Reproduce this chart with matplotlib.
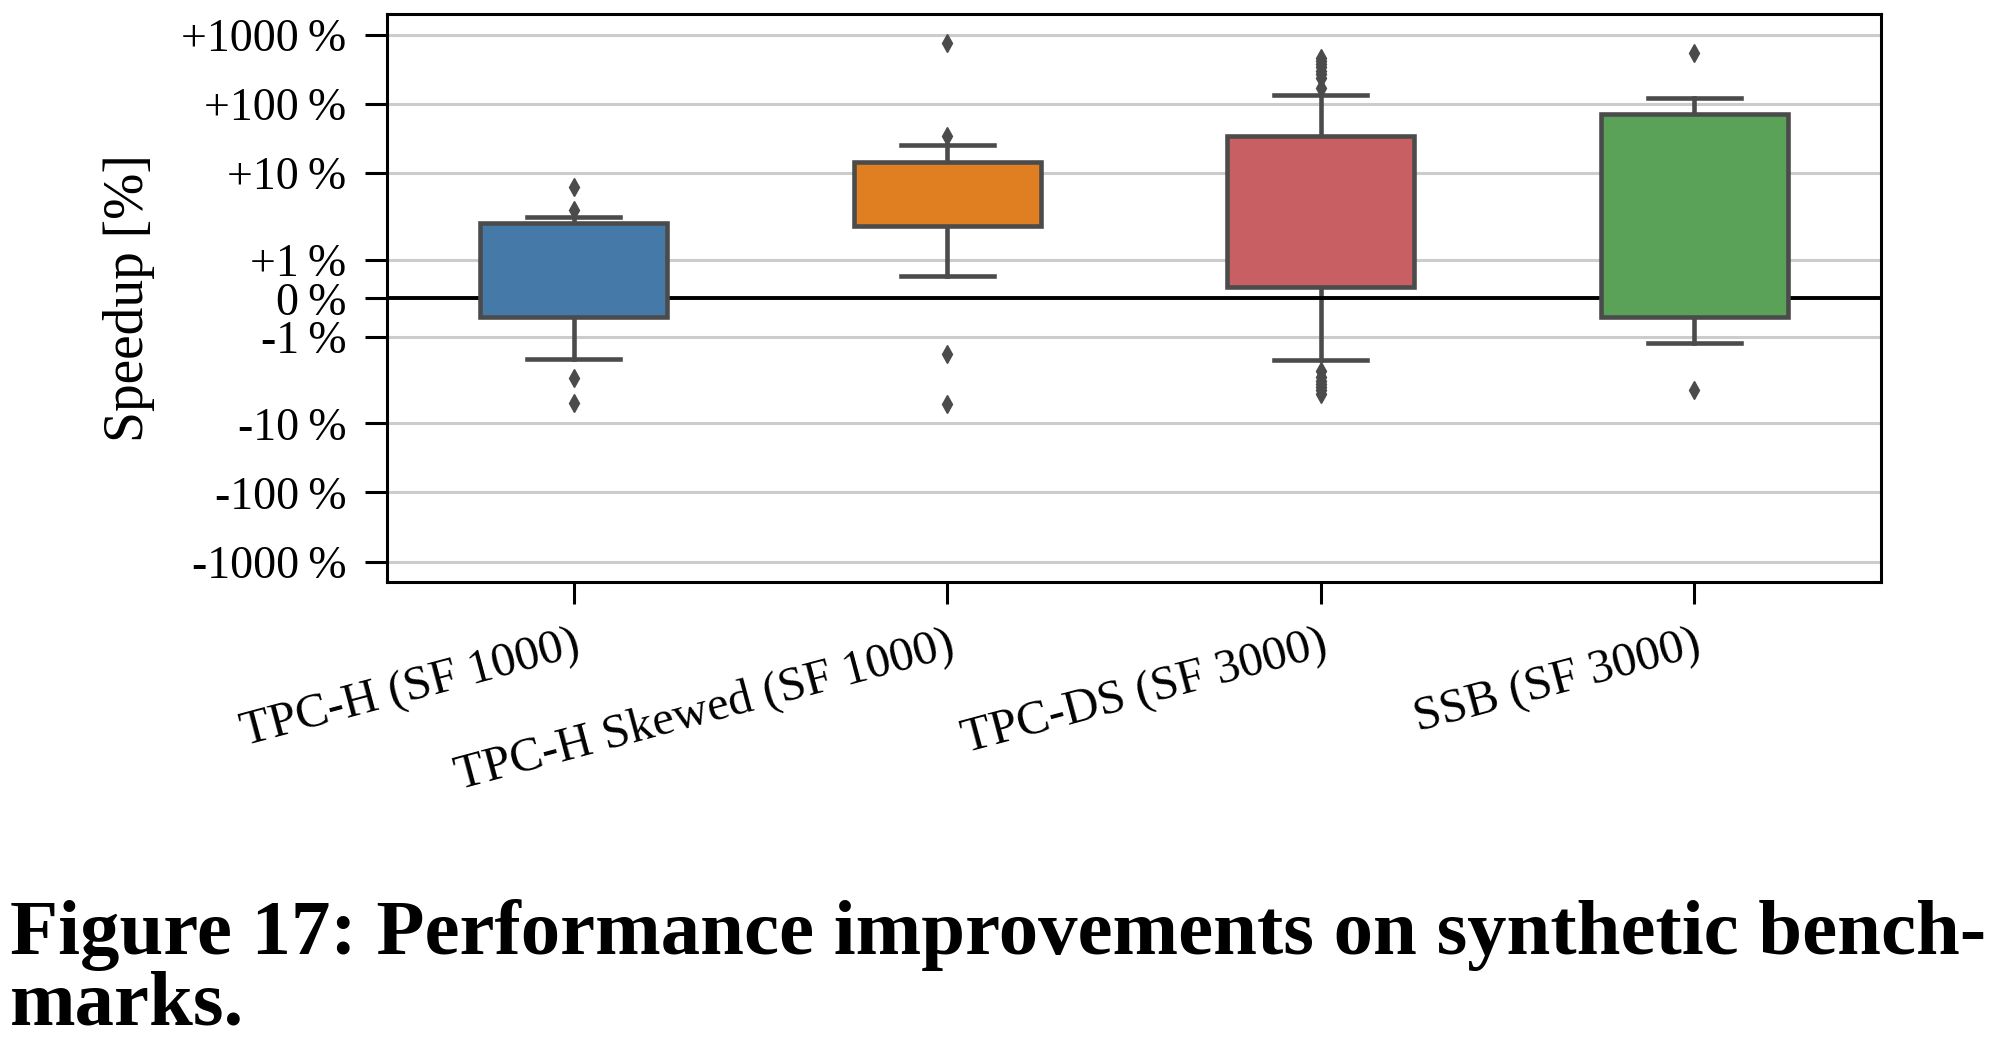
import numpy as np
import matplotlib
matplotlib.use("Agg")
import matplotlib.pyplot as plt

plt.rcParams["font.family"] = ["Liberation Serif", "DejaVu Serif"]

# ── Data (speedup in %) ──────────────────────────────────────────────────────
BENCHMARKS = ["TPC-H (SF 1000)", "TPC-H Skewed (SF 1000)",
              "TPC-DS (SF 3000)", "SSB (SF 3000)"]
COLORS = ["#4479a8", "#e07f22", "#c85f63", "#5aa258"]

q1_vals = [-0.48, 1.89, 0.30, -0.48]
median_vals = [0.45, 7.15, 2.40, 3.96]
q3_vals = [1.95, 14.4, 34.6, 71.0]
whislo_vals = [-1.58, 0.58, -1.61, -1.17]
whishi_vals = [2.30, 26.0, 135.0, 121.0]
flier_vals = [
    [6.4, 2.9, -2.2, -5.0],
    [774.0, 34.0, -1.46, -5.3],
    [169.0, 240.0, 270.0, 300.0, 340.0, 380.0, 420.0, 460.0,
     -1.9, -2.1, -2.4, -2.7, -3.0, -3.3, -3.7],
    [555.0, -3.3],
]

YTICKS = [1000, 100, 10, 1, 0, -1, -10, -100, -1000]
YTICK_LABELS = ["+1000\u2009%", "+100\u2009%", "+10\u2009%", "+1\u2009%", "0\u2009%",
                "-1\u2009%", "-10\u2009%", "-100\u2009%", "-1000\u2009%"]

EDGE = "#4b4b4b"

fig = plt.figure(figsize=(20, 10.54), dpi=100)
ax = fig.add_axes([0.1935, 0.4475, 0.747, 0.539])

stats = []
for i, name in enumerate(BENCHMARKS):
    stats.append(dict(label=name, med=median_vals[i], q1=q1_vals[i], q3=q3_vals[i],
                      whislo=whislo_vals[i], whishi=whishi_vals[i],
                      fliers=flier_vals[i]))

bp = ax.bxp(stats, positions=np.arange(len(BENCHMARKS)), widths=0.5,
            capwidths=0.25, patch_artist=True,
            boxprops=dict(edgecolor=EDGE, linewidth=3.3),
            medianprops=dict(color=EDGE, linewidth=3.3),
            whiskerprops=dict(color=EDGE, linewidth=3.3),
            capprops=dict(color=EDGE, linewidth=3.3),
            flierprops=dict(marker="d", markerfacecolor=EDGE,
                            markeredgecolor=EDGE, markersize=9))
for patch, c in zip(bp["boxes"], COLORS):
    patch.set_facecolor(c)
    patch.set_zorder(3)

ax.set_yscale("symlog", linthresh=2)
ax.set_ylim(-2000, 2000)
ax.set_xlim(-0.5, len(BENCHMARKS) - 0.5)
ax.set_yticks(YTICKS)
ax.set_yticklabels(YTICK_LABELS)
ax.yaxis.set_minor_locator(matplotlib.ticker.NullLocator())
ax.set_xticks(np.arange(len(BENCHMARKS)))
ax.set_xticklabels(BENCHMARKS, rotation=15, ha="right", rotation_mode="anchor")

ax.grid(axis="y", color="#cccccc", linewidth=2.2, zorder=0)
ax.set_axisbelow(True)
ax.axhline(0, color="black", linewidth=2.8, zorder=2)

for sp in ax.spines.values():
    sp.set_linewidth(2.2)
    sp.set_color("black")
ax.tick_params(axis="both", direction="out", length=16, width=2.2,
               pad=13, colors="black")
ax.tick_params(axis="y", labelsize=33)
ax.tick_params(axis="x", labelsize=35)
ax.set_ylabel("Speedup [%]", fontsize=40)
ax.yaxis.set_label_coords(-0.155, 0.5)

# ── Caption ──────────────────────────────────────────────────────────────────
cap1 = fig.text(0.005, 0.095, "Figure 17: Performance improvements on synthetic bench-",
                fontsize=44, fontweight="bold", ha="left", va="baseline")
cap2 = fig.text(0.005, 0.028, "marks.", fontsize=44, fontweight="bold",
                ha="left", va="baseline")
renderer = fig.canvas.get_renderer()
w = cap1.get_window_extent(renderer).width
scale = 1975 / w
cap1.set_fontsize(44 * scale)
cap2.set_fontsize(44 * scale)

fig.savefig("out.png", dpi=100)
